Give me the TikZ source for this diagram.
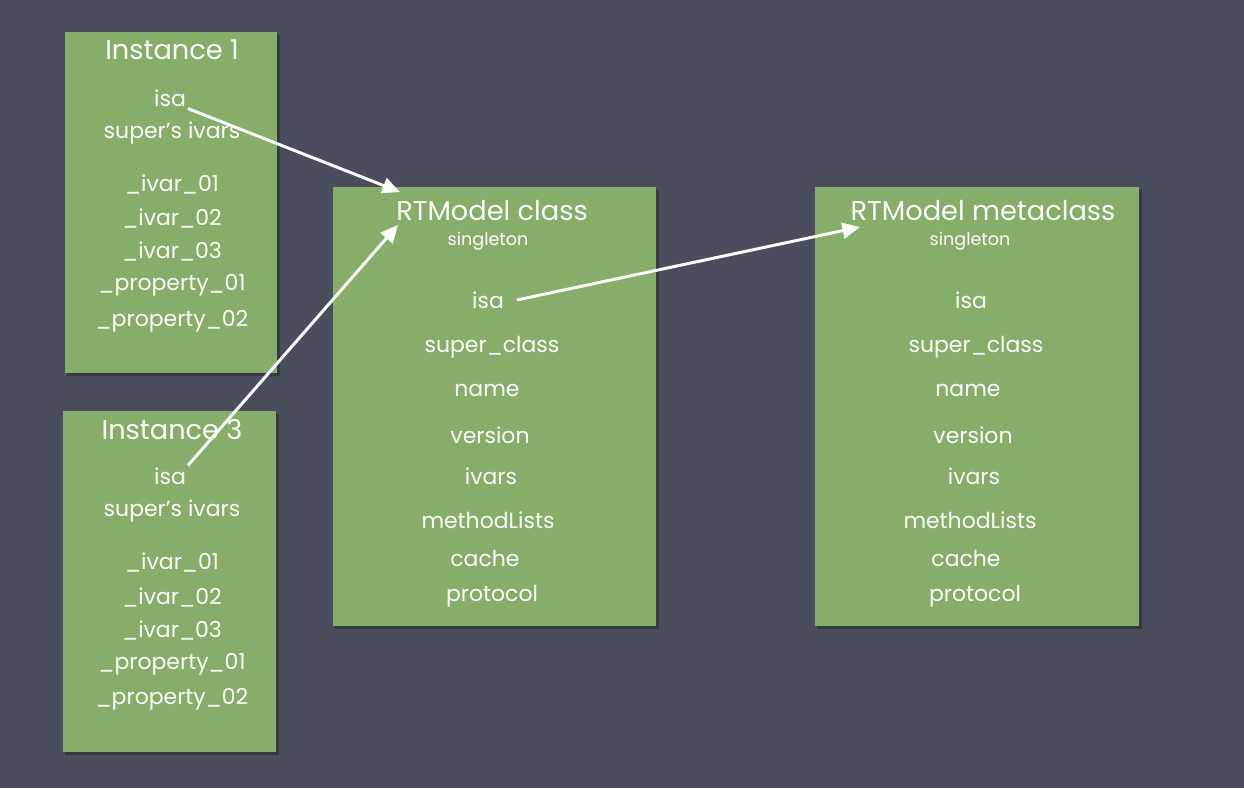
\documentclass[tikz,border=0pt]{standalone}
\usepackage{fontspec}
\setmainfont{Poppins}
\usepackage{tikz}
\usetikzlibrary{calc}
\usetikzlibrary{arrows.meta}

\definecolor{board}{HTML}{4A4E5C}
\definecolor{paper}{HTML}{87AD6A}

\begin{document}
\begin{tikzpicture}[x=0.02cm,y=-0.02cm]
     \tikzstyle{every node}=[font=\fontsize{12.5}{14}\selectfont,text=white!96!paper,inner sep=1pt]
     \tikzstyle{cardtitle}=[font=\fontsize{15.5}{17}\selectfont]
     \tikzstyle{note}=[font=\fontsize{10}{11}\selectfont]
     \tikzstyle{card}=[fill=paper]
     \tikzstyle{shade}=[fill=black,opacity=0.25]
     \tikzstyle{chalk}=[white!96!paper,line width=1.7pt,-{Triangle[length=10pt,width=9pt]}]
      \fill [board] (0,0) rectangle (1244,788);
      \useasboundingbox (0,0) rectangle (1244,788);
      \coordinate (ClassHitA) at (400,192);
      \coordinate (ClassHitB) at (398,225);
      \coordinate (MetaHit)   at (860,227);
      % cards
      \fill [shade] (67,35) rectangle (280,376);
      \fill [shade] (65,414) rectangle (279,755);
      \fill [shade] (335,190) rectangle (659,629);
      \fill [shade] (817,190) rectangle (1142,629);
      \fill [card] (65,32) rectangle (277,373);
      \fill [card] (63,411) rectangle (276,752);
      \fill [card] (333,187) rectangle (656,626);
      \fill [card] (815,187) rectangle (1139,626);
      % Instance 1
      \node [cardtitle] (InstA) at (172,50) {Instance 1};
      \node (InstAIsa)   at (170,98)  {isa};
      \node (InstASuper) at (172,133) {super’s ivars};
      \node (InstAVarA)  at (172,184) {\_ivar\_01};
      \node (InstAVarB)  at (172,218) {\_ivar\_02};
      \node (InstAVarC)  at (172,251) {\_ivar\_03};
      \node (InstAPropA) at (172,285) {\_property\_01};
      \node (InstAPropB) at (172,321) {\_property\_02};
      % Instance 3
      \node [cardtitle] (InstC) at (172,430) {Instance 3};
      \node (InstCIsa)   at (170,476) {isa};
      \node (InstCSuper) at (172,511) {super’s ivars};
      \node (InstCVarA)  at (172,562) {\_ivar\_01};
      \node (InstCVarB)  at (172,597) {\_ivar\_02};
      \node (InstCVarC)  at (172,630) {\_ivar\_03};
      \node (InstCPropA) at (172,664) {\_property\_01};
      \node (InstCPropB) at (172,699) {\_property\_02};
      % class
      \node [cardtitle] (Cls) at (492,211) {RTModel class};
      \node [note] (ClsNote)   at (488,241) {singleton};
      \node (ClsIsa)     at (488,300) {isa};
      \node (ClsSuper)   at (492,347) {super\_class};
      \node (ClsName)    at (487,390) {name};
      \node (ClsVersion) at (490,435) {version};
      \node (ClsIvars)   at (491,476) {ivars};
      \node (ClsMethods) at (488,520) {methodLists};
      \node (ClsCache)   at (485,558) {cache};
      \node (ClsProto)   at (492,596) {protocol};
      % metaclass
      \node [cardtitle] (Meta) at (983,211) {RTModel metaclass};
      \node [note] (MetaNote)   at (970,241) {singleton};
      \node (MetaIsa)     at (971,300) {isa};
      \node (MetaSuper)   at (976,347) {super\_class};
      \node (MetaName)    at (968,390) {name};
      \node (MetaVersion) at (973,435) {version};
      \node (MetaIvars)   at (974,476) {ivars};
      \node (MetaMethods) at (970,520) {methodLists};
      \node (MetaCache)   at (966,558) {cache};
      \node (MetaProto)   at (975,596) {protocol};
      % isa pointers
      \draw [chalk] (InstAIsa.south east) -- (ClassHitA);
      \draw [chalk] (InstCIsa.north east) -- (ClassHitB);
      \draw [chalk] ($(ClsIsa.east)+(11,0)$) -- (MetaHit);
    \end{tikzpicture}
\end{document}
